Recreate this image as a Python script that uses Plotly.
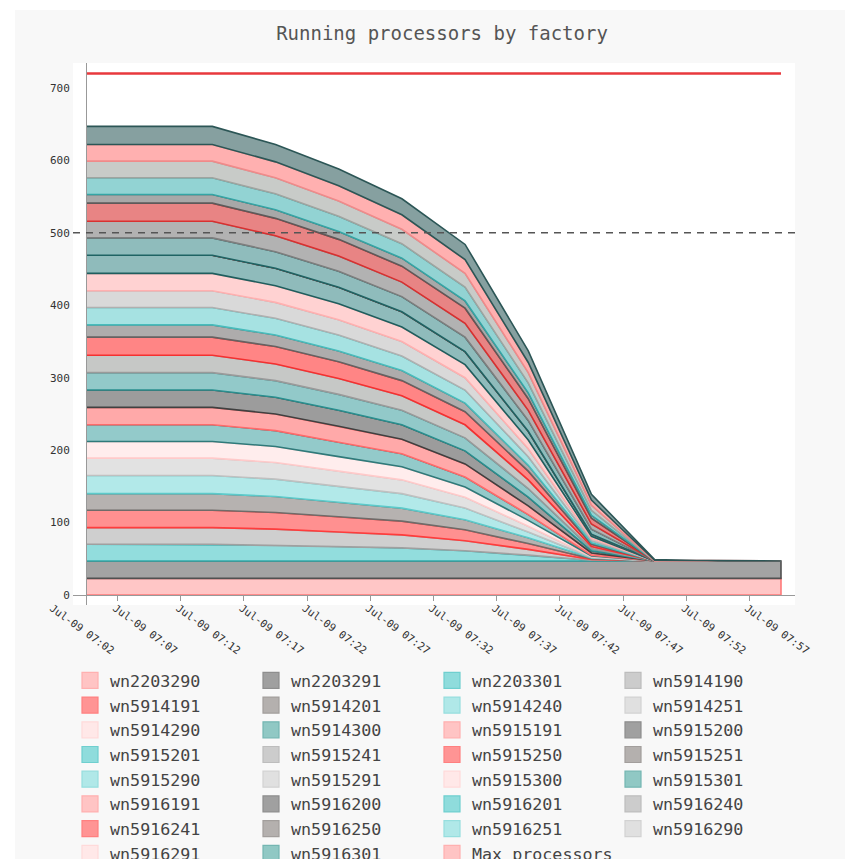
import plotly.graph_objects as go
import numpy as np

# ---------------- data ----------------
times = ["2023-07-09 07:02", "2023-07-09 07:07", "2023-07-09 07:12", "2023-07-09 07:17",
         "2023-07-09 07:22", "2023-07-09 07:27", "2023-07-09 07:32", "2023-07-09 07:37",
         "2023-07-09 07:42", "2023-07-09 07:47", "2023-07-09 07:52", "2023-07-09 07:57"]

wn2203290 = [23, 23, 23, 23, 23, 23, 23, 23, 23, 23, 23, 23]
wn2203291 = [24, 24, 24, 24, 24, 24, 24, 24, 24, 24, 24, 24]
wn2203301 = [23, 23, 23, 22, 20, 18, 14, 8, 1, 0, 0, 0]
wn5914190 = [23, 23, 23, 22, 20, 18, 14, 8, 1, 0, 0, 0]
wn5914191 = [24, 24, 24, 23, 21, 19, 15, 8, 1, 0, 0, 0]
wn5914201 = [23, 23, 23, 22, 20, 18, 14, 8, 1, 0, 0, 0]
wn5914240 = [25, 25, 25, 24, 22, 20, 16, 8, 1, 0, 0, 0]
wn5914251 = [24, 24, 24, 23, 21, 19, 15, 8, 1, 0, 0, 0]
wn5914290 = [23, 23, 23, 22, 20, 18, 14, 8, 1, 0, 0, 0]
wn5914300 = [23, 23, 23, 22, 20, 18, 14, 8, 1, 0, 0, 0]
wn5915191 = [24, 24, 24, 23, 22, 20, 18, 12, 3, 0, 0, 0]
wn5915200 = [24, 24, 24, 23, 22, 20, 18, 12, 3, 0, 0, 0]
wn5915201 = [24, 24, 24, 23, 22, 20, 18, 12, 3, 0, 0, 0]
wn5915241 = [24, 24, 24, 23, 22, 20, 18, 12, 3, 0, 0, 0]
wn5915250 = [25, 25, 25, 24, 23, 21, 18, 12, 3, 0, 0, 0]
wn5915251 = [17, 17, 17, 16, 15, 14, 12, 8, 2, 0, 0, 0]
wn5915290 = [24, 24, 24, 23, 22, 20, 18, 12, 3, 0, 0, 0]
wn5915291 = [23, 23, 23, 22, 21, 20, 17, 11, 3, 0, 0, 0]
wn5915300 = [24, 24, 24, 23, 22, 20, 18, 12, 3, 0, 0, 0]
wn5915301 = [25, 25, 25, 24, 23, 21, 18, 12, 3, 0, 0, 0]
wn5916191 = [0, 0, 0, 0, 0, 0, 0, 0, 0, 0, 0, 0]
wn5916200 = [0, 0, 0, 0, 0, 0, 0, 0, 0, 0, 0, 0]
wn5916201 = [24, 24, 24, 23, 22, 21, 20, 15, 7, 0, 0, 0]
wn5916240 = [23, 23, 23, 22, 21, 20, 19, 14, 7, 0, 0, 0]
wn5916241 = [25, 25, 25, 24, 23, 22, 21, 16, 8, 0, 0, 0]
wn5916250 = [12, 12, 12, 12, 11, 11, 10, 8, 4, 0, 0, 0]
wn5916251 = [23, 23, 23, 22, 21, 20, 19, 14, 7, 0, 0, 0]
wn5916290 = [23, 23, 23, 22, 21, 20, 19, 14, 7, 0, 0, 0]
wn5916291 = [23, 23, 23, 22, 21, 20, 19, 14, 7, 1, 0, 0]
wn5916301 = [25, 25, 25, 24, 23, 22, 21, 16, 8, 1, 0, 0]

max_processors = [720, 720, 720, 720, 720, 720, 720, 720, 720, 720, 720, 720]
threshold = 500

factory_names = ["wn2203290", "wn2203291", "wn2203301", "wn5914190", "wn5914191", "wn5914201",
                 "wn5914240", "wn5914251", "wn5914290", "wn5914300", "wn5915191", "wn5915200",
                 "wn5915201", "wn5915241", "wn5915250", "wn5915251", "wn5915290", "wn5915291",
                 "wn5915300", "wn5915301", "wn5916191", "wn5916200", "wn5916201", "wn5916240",
                 "wn5916241", "wn5916250", "wn5916251", "wn5916290", "wn5916291", "wn5916301"]
factory_values = [wn2203290, wn2203291, wn2203301, wn5914190, wn5914191, wn5914201,
                  wn5914240, wn5914251, wn5914290, wn5914300, wn5915191, wn5915200,
                  wn5915201, wn5915241, wn5915250, wn5915251, wn5915290, wn5915291,
                  wn5915300, wn5915301, wn5916191, wn5916200, wn5916201, wn5916240,
                  wn5916241, wn5916250, wn5916251, wn5916290, wn5916291, wn5916301]

# ---------------- style ----------------
FONT = "DejaVu Sans Mono"
band_fill = ["#ffc6c6", "#a3a3a3", "#92dddd", "#cfcfcf", "#ff9090", "#b6b2b0", "#b2e9e9", "#e2e2e2",
             "#ffeded", "#93caca", "#ffa9a9", "#9c9c9c", "#92c9c9", "#c6c8c6", "#ff8585", "#aeacac",
             "#a6e2e2", "#d9d9d9", "#ffd2d2", "#8fbbbb", "#ffb8b8", "#999999", "#8fbcbc", "#b2b2b2",
             "#e88484", "#a8a8a8", "#92d3d3", "#c8cbc8", "#ffb0b0", "#86a0a0"]
band_line = ["#ff7a7a", "#505050", "#33aaaa", "#a0a0a0", "#ff3c3c", "#6f6b69", "#5ccaca", "#c0c0c0",
             "#ffcaca", "#2f7a7a", "#ff6a6a", "#404040", "#2a8f8f", "#9a9a9a", "#f53030", "#666262",
             "#48bcbc", "#b0b0b0", "#ffb0b0", "#1f5e5e", "#ff6060", "#404040", "#1f6464", "#7e7e7e",
             "#d93030", "#5e5a5a", "#35a5a5", "#a0a4a0", "#f08a8a", "#2c5656"]
legend_fill = ["#ffc4c4", "#a0a0a0", "#8fdcdc", "#cccccc", "#ff9494",
               "#b4b0ae", "#b0e8e8", "#e0e0e0", "#ffe8e8", "#90c8c4"]
legend_line = ["#ffb0b0", "#8e8e8e", "#6fcfcf", "#bdbdbd", "#ff8080",
               "#a29e9c", "#96dede", "#d2d2d2", "#ffdada", "#74b6b2"]

fig = go.Figure()

cum = np.cumsum(np.array(factory_values, dtype=float), axis=0)
xs = times + times[::-1]
for i, name in enumerate(factory_names):
    top = cum[i]
    bottom = cum[i - 1] if i > 0 else np.zeros(len(times))
    fig.add_trace(go.Scatter(
        x=xs, y=list(top) + list(bottom[::-1]), fill="toself", mode="lines",
        fillcolor=band_fill[i], line=dict(color=band_line[i], width=1.6),
        name=name, legendgroup=name, showlegend=False, hoverinfo="skip"))

fig.add_trace(go.Scatter(x=times, y=max_processors, mode="lines", name="Max processors",
                         legendgroup="Max processors", showlegend=False,
                         line=dict(color="#e8383d", width=2.6)))

# legend entries (square swatches)
for i, name in enumerate(factory_names + ["Max processors"]):
    c = i % 10
    fig.add_trace(go.Scatter(
        x=[None], y=[None], mode="markers", name=name, legendgroup=name,
        marker=dict(symbol="square", size=16, color=legend_fill[c],
                    line=dict(color=legend_line[c], width=1.2))))

# ---------------- layout ----------------
W, H = 858, 859
ML, MR, MT, MB = 73, 63, 63, 254
PW, PH = W - ML - MR, H - MT - MB


def px_x(px):
    return (px - ML) / PW


def px_y(py):
    return (H - MB - py) / PH


shapes = [
    dict(type="rect", xref="paper", yref="paper", x0=px_x(0), x1=px_x(15), y0=px_y(H), y1=px_y(0),
         fillcolor="white", line=dict(width=0), layer="below"),
    dict(type="rect", xref="paper", yref="paper", x0=px_x(845), x1=px_x(W), y0=px_y(H), y1=px_y(0),
         fillcolor="white", line=dict(width=0), layer="below"),
    dict(type="rect", xref="paper", yref="paper", x0=px_x(0), x1=px_x(W), y0=px_y(10), y1=px_y(0),
         fillcolor="white", line=dict(width=0), layer="below"),
    dict(type="line", xref="paper", yref="y", x0=0, x1=1, y0=threshold, y1=threshold,
         line=dict(color="#555555", width=1.5, dash="7px,6px")),
]

fig.update_layout(
    width=W, height=H,
    margin=dict(l=ML, r=MR, t=MT, b=MB, pad=0, autoexpand=False),
    paper_bgcolor="#f8f8f8", plot_bgcolor="white",
    font=dict(family=FONT, color="#333"),
    title=dict(text="Running processors by factory", x=px_x(442), xref="paper", xanchor="center",
               y=1 - 33 / H, yref="container", yanchor="middle",
               font=dict(family=FONT, size=19, color="#555")),
    shapes=shapes,
    showlegend=True,
    legend=dict(orientation="h", x=px_x(70), y=px_y(663), xanchor="left", yanchor="top",
                font=dict(family=FONT, size=16.7, color="#444"),
                entrywidth=136, entrywidthmode="pixels", bgcolor="rgba(0,0,0,0)",
                traceorder="normal", itemclick=False),
    xaxis=dict(type="date",
               range=["2023-07-09 07:00:58.3", "2023-07-09 07:58:06.5"],
               tickvals=times, tickformat="%b-%d %H:%M", tickangle=36,
               tickfont=dict(family=FONT, size=10.6, color="#333"),
               ticks="", ticklabelshift=-34, ticklabelstandoff=2,
               minor=dict(ticks="outside", ticklen=5, tickcolor="#999",
                          tick0="2023-07-09 07:04:30", dtick=300000, showgrid=False),
               anchor="free", position=px_y(595),
               showline=True, linecolor="#999", linewidth=1,
               showgrid=False, zeroline=False),
    yaxis=dict(range=[-13.8, 734.5], tickvals=[0, 100, 200, 300, 400, 500, 600, 700],
               tickfont=dict(family=FONT, size=11, color="#333"),
               ticks="", ticklabelstandoff=14,
               anchor="free", position=px_x(86),
               showline=True, linecolor="#999", linewidth=1,
               showgrid=False, zeroline=False),
)

fig.write_html("out.html", config={"displayModeBar": False},
               post_script="document.body.style.margin='0';")
